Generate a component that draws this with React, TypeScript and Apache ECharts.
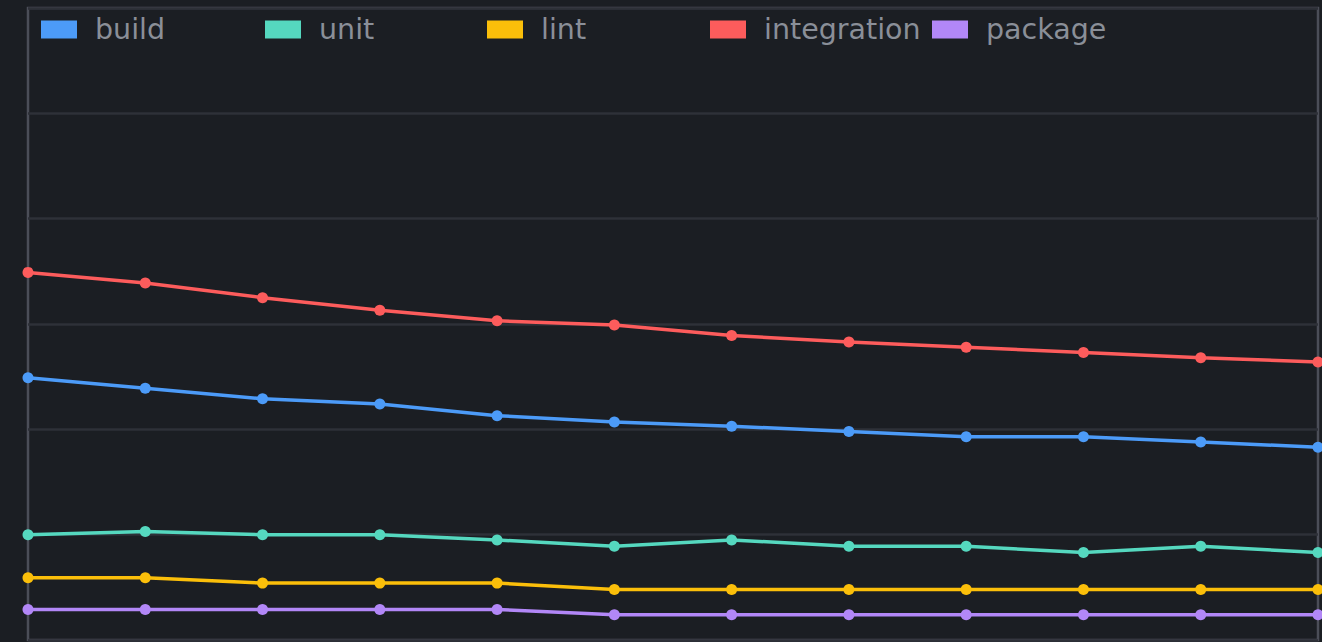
import React, { useEffect, useRef } from "react";
import * as echarts from "echarts";

const categories = ["W01", "W02", "W03", "W04", "W05", "W06", "W07", "W08", "W09", "W10", "W11", "W12"];
const buildValues = [249, 239, 229, 224, 213, 207, 203, 198, 193, 193, 188, 183];
const unitValues = [100, 103, 100, 100, 95, 89, 95, 89, 89, 83, 89, 83];
const lintValues = [59, 59, 54, 54, 54, 48, 48, 48, 48, 48, 48, 48];
const integrationValues = [349, 339, 325, 313, 303, 299, 289, 283, 278, 273, 268, 264];
const packageValues = [29, 29, 29, 29, 29, 24, 24, 24, 24, 24, 24, 24];
const seriesNames = ["build", "unit", "lint", "integration", "package"];
const seriesColors = ["#4c9bf8", "#55d8bf", "#fbbf0a", "#fd5c5c", "#b287f7"];
const yTicks = [0, 100, 200, 300, 400, 500, 600];
const legendLefts = [41, 265, 487, 710, 932];

export default function App() {
  const ref = useRef<HTMLDivElement>(null);
  useEffect(() => {
    if (!ref.current) return;
    const chart = echarts.init(ref.current, undefined, { renderer: "svg" });
    const values = [buildValues, unitValues, lintValues, integrationValues, packageValues];
    chart.setOption({
      animation: false,
      backgroundColor: "#1b1e23",
      color: seriesColors,
      legend: seriesNames.map((name, i) => ({
        left: legendLefts[i],
        top: 15,
        padding: 0,
        itemWidth: 36,
        itemHeight: 18,
        icon: "rect",
        data: [name],
        textStyle: {
          color: "#8a8f98",
          fontSize: 28.5,
          fontFamily: "DejaVu Sans",
          padding: [0, 0, 0, 13],
        },
      })),
      grid: {
        left: 28,
        right: 4,
        top: 8,
        bottom: 2,
        show: true,
        borderColor: "#4b4e58",
        borderWidth: 2.5,
        backgroundColor: "transparent",
      },
      xAxis: {
        type: "category",
        data: categories,
        boundaryGap: false,
        axisLine: { show: false },
        axisTick: { show: false },
        axisLabel: { show: false },
        splitLine: { show: false },
      },
      yAxis: {
        type: "value",
        min: yTicks[0],
        max: yTicks[yTicks.length - 1],
        interval: 100,
        axisLine: { show: false },
        axisTick: { show: false },
        axisLabel: { show: false },
        splitLine: { show: true, lineStyle: { color: "#2e3138", width: 2.5 } },
      },
      series: seriesNames.map((name, i) => ({
        name,
        type: "line",
        data: values[i],
        symbol: "circle",
        symbolSize: 11,
        showSymbol: true,
        lineStyle: { width: 3.5, color: seriesColors[i] },
        itemStyle: { color: seriesColors[i] },
      })),
    });
    return () => chart.dispose();
  }, []);
  return (
    <div
      ref={ref}
      style={{ position: "fixed", left: 0, top: 0, width: 1322, height: 642, background: "#1b1e23" }}
    />
  );
}
